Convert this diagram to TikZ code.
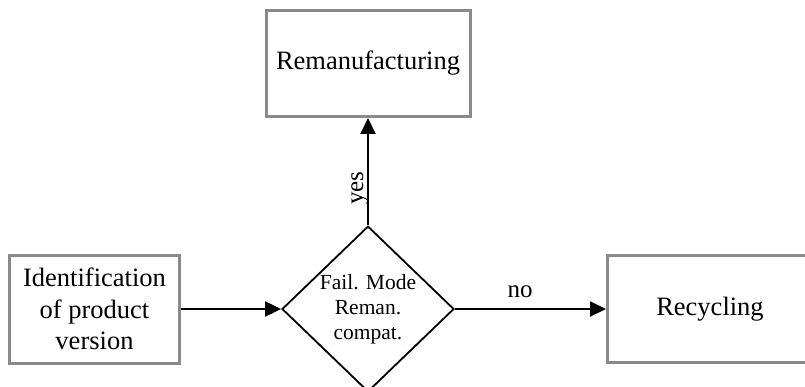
\documentclass[tikz,border=0pt]{standalone}
\usepackage{fontspec}
\setmainfont{Liberation Serif}
\usetikzlibrary{shapes.geometric,arrows.meta,calc}
\definecolor{boxgray}{HTML}{8A8A8A}
\begin{document}
\begin{tikzpicture}[x=1pt,y=1pt,
  procbox/.style={draw=boxgray,line width=3pt,fill=white,inner sep=0pt,
    align=center,font=\fontsize{26.5}{31.5}\selectfont},
  decision/.style={diamond,draw=black,line width=1.8pt,inner sep=0pt,
    minimum width=172pt,minimum height=156pt,align=center,
    font=\fontsize{21.5}{25}\selectfont},
  flow/.style={draw=black,line width=2pt,-{Triangle[length=16pt,width=15pt]}},
  edgelabel/.style={font=\fontsize{25}{30}\selectfont,inner sep=0pt}]
\useasboundingbox (0,0) rectangle (805,386);
\clip (0,0) rectangle (805,386);
% process boxes and the decision
\node[procbox,minimum width=170pt,minimum height=108pt] (id) at (94.5,77)
  {Identification\\of product\\version};
\node[decision] (dia) at (368,77) {Fail. Mode\\Reman.\\compat.};
\node[procbox,minimum width=204pt,minimum height=106pt] (reman) at (368,322.5)
  {Remanufacturing};
\node[procbox,minimum width=205pt,minimum height=107pt] (rec) at (710,77)
  {Recycling};
% connectors
\draw[flow] (id.east) -- (dia.west);
\draw[flow] (dia.north) -- (reman.south);
\draw[flow] (dia.east) -- (rec.west);
% branch labels
\node[edgelabel,rotate=90,anchor=base] (yes) at (363,198) {yes};
\node[edgelabel,anchor=base] (no) at (520,89) {no};
\end{tikzpicture}
\end{document}
